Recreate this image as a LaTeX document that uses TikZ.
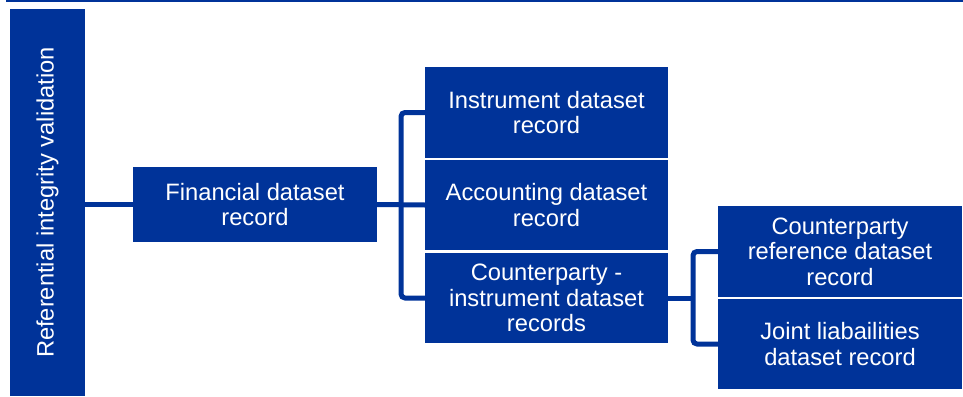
\documentclass[tikz,border=0pt]{standalone}
\usepackage{fontspec}
\setmainfont{Liberation Sans}
\usepackage{xcolor}
\usetikzlibrary{positioning,calc}
\definecolor{ecbblue}{RGB}{0,51,153}

\begin{document}
\begin{tikzpicture}[x=1pt,y=-1pt,
  box/.style={fill=ecbblue,text=white,inner sep=0pt,align=center,
    font=\fontsize{23.7}{25.5}\selectfont,minimum width=244pt,minimum height=90pt},
  link/.style={draw=ecbblue,line width=5pt,rounded corners=4pt}]
\useasboundingbox (0,0) rectangle (963,396);
\fill[ecbblue] (6,0) rectangle (963,2.3);

\node[box,minimum width=75pt,minimum height=387pt] (valid) at (47.5,202.5) {};
\node[text=white,rotate=90,font=\fontsize{23.7}{25.5}\selectfont] at (valid.center) {Referential integrity validation};

\node[box,minimum height=75pt] (fin) at (255,204.5) {Financial dataset\\record};

\node[box,minimum width=243pt,minimum height=91pt] (instr) at (546.5,112.5) {Instrument dataset\\record};
\node[box,minimum width=243pt] (acc) at (546.5,205) {Accounting dataset\\record};
\node[box,minimum width=243pt] (cpi) at (546.5,298) {Counterparty -\\instrument dataset\\records};

\node[box,minimum height=91pt] (cpref) at (840,251.5) {Counterparty\\reference dataset\\record};
\node[box] (joint) at (840,344) {Joint liabailities\\dataset record};

\coordinate (busA) at ($(fin.east)!0.5!(acc.west)$);
\coordinate (busB) at ($(cpi.east)!0.5!(cpi.east -| cpref.west)$);

\draw[link] (valid.east |- fin.west) -- (fin.west);
\draw[link] (fin.east) -- (acc.west);
\draw[link] (instr.west) -| (busA) |- (cpi.west);
\draw[link] (cpi.east) -- (busB);
\draw[link] (cpref.west) -| (busB) |- (joint.west);
\end{tikzpicture}
\end{document}
